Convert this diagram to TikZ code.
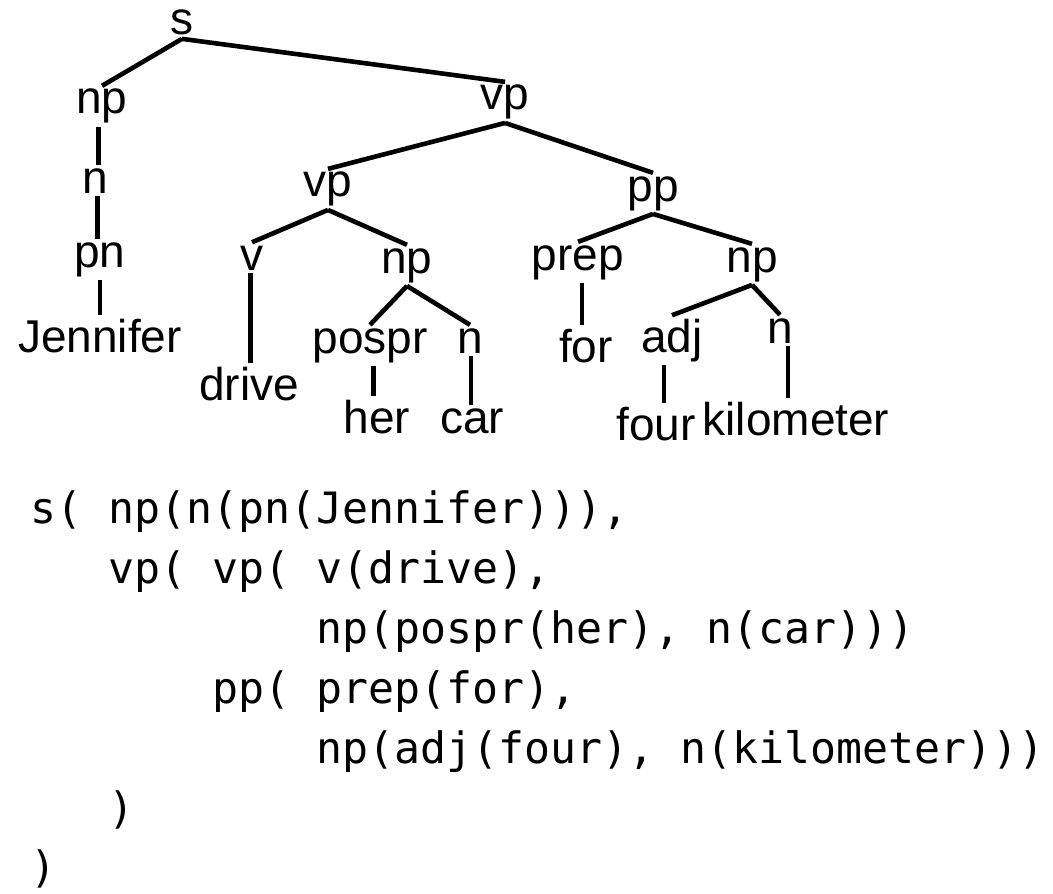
\documentclass[tikz,border=0pt]{standalone}
\usepackage{fontspec}
\setmainfont{Liberation Sans}
\newfontfamily\codefont{DejaVu Sans Mono}
\usetikzlibrary{calc}

\begin{document}
\begin{tikzpicture}[x=0.5pt,y=-0.5pt,
	word/.style={anchor=base,inner sep=1.5pt,font=\fontsize{23}{27}\selectfont},
	codeline/.style={anchor=base west,inner sep=0pt,font=\codefont\fontsize{21.6}{30}\selectfont},
	branch/.style={line width=2.3pt}]
	
	\useasboundingbox (0,0) rectangle (1053,893);
	
	\node[word] (s) at (182,35) {s};
	\node[word] (np) at (102,114) {np};
	\node[word] (vp) at (505,110) {vp};
	\node[word] (n) at (95,193) {n};
	\node[word] (vpin) at (328,197) {vp};
	\node[word] (pp) at (653,201) {pp};
	\node[word] (pn) at (100,267) {pn};
	\node[word] (v) at (252,270) {v};
	\node[word] (npobj) at (407,273) {np};
	\node[word] (prep) at (578,270) {prep};
	\node[word] (nppp) at (752,272) {np};
	\node[word] (jennifer) at (100,352) {Jennifer};
	\node[word] (drive) at (249,400) {drive};
	\node[word] (pospr) at (370,353) {pospr};
	\node[word] (ncar) at (470,353) {n};
	\node[word] (for) at (586,362) {for};
	\node[word] (adj) at (672,352) {adj};
	\node[word] (nkm) at (780,343) {n};
	\node[word] (her) at (377,433) {her};
	\node[word] (car) at (472,433) {car};
	\node[word] (four) at (656,440) {four};
	\node[word] (kilometer) at (796,435) {kilometer};
	
	\foreach \a/\b in {s/np,s/vp,vp/vpin,vp/pp,vpin/v,vpin/npobj,npobj/pospr,npobj/ncar,pp/prep,pp/nppp,nppp/adj,nppp/nkm}
	{
		\draw[branch] (\a.south) -- (\b.north);
	}
	\foreach \a/\b in {np/n,n/pn,pn/jennifer,v/drive,pospr/her,ncar/car,prep/for,adj/four,nkm/kilometer}
	{
		\coordinate (m) at ($(\a.south)!0.5!(\b.north)$);
		\draw[branch] (m |- \a.south) -- (m |- \b.north);
	}
	
	\node[codeline] (l1) at (30,523) {s( np(n(pn(Jennifer))),};
	\node[codeline] (l2) at (108,583) {vp( vp( v(drive),};
	\node[codeline] (l3) at (316,643) {np(pospr(her), n(car)))};
	\node[codeline] (l4) at (212,703) {pp( prep(for),};
	\node[codeline] (l5) at (316,763) {np(adj(four), n(kilometer)))};
	\node[codeline] (l6) at (108,823) {)};
	\node[codeline] (l7) at (30,882) {)};
\end{tikzpicture}
\end{document}
